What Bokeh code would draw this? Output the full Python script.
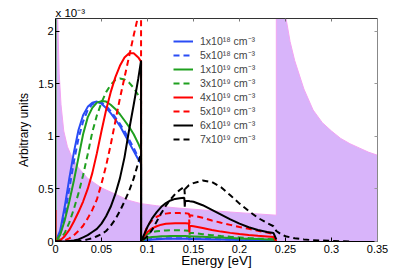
from bokeh.plotting import figure
from bokeh.models import Range1d, LinearAxis, Legend, LegendItem, FixedTicker
from bokeh.embed import file_html
from bokeh.resources import INLINE

# ---------------- data (y values in units of 1e-3) ----------------
x_ticks = [0.0, 0.05, 0.1, 0.15, 0.2, 0.25, 0.3, 0.35]
x_tick_labels = ["0", "0.05", "0.1", "0.15", "0.2", "0.25", "0.3", "0.35"]
y_ticks = [0.0, 0.5, 1.0, 1.5, 2.0]
y_tick_labels = ["0", "0.5", "1", "1.5", "2"]
y_exponent = "x 10⁻³"

# shaded background (purple) spectrum
fill_E = [0.0, 0.002, 0.004, 0.006, 0.009, 0.013, 0.018, 0.025, 0.035, 0.05, 0.065,
          0.08, 0.093, 0.11, 0.13, 0.16, 0.19, 0.215, 0.24, 0.24, 0.245, 0.25, 0.255,
          0.26, 0.27, 0.28, 0.29, 0.3, 0.31, 0.32, 0.33, 0.34, 0.35]
fill_v = [3.0, 2.25, 1.6, 1.3, 1.05, 0.9, 0.8, 0.7, 0.6, 0.51, 0.45,
          0.39, 0.36, 0.34, 0.32, 0.3, 0.28, 0.265, 0.25, 3.0, 3.0, 2.15, 1.9,
          1.72, 1.45, 1.25, 1.13, 1.05, 0.98, 0.93, 0.89, 0.85, 0.82]

# energy grids: below and above the 0.093 eV edge
E_low = [0.0, 0.005, 0.01, 0.015, 0.02, 0.025, 0.03, 0.035, 0.04, 0.045, 0.05,
         0.055, 0.06, 0.065, 0.07, 0.075, 0.08, 0.085, 0.09, 0.093]
E_high = [0.093, 0.097, 0.1, 0.105, 0.11, 0.115, 0.12, 0.125, 0.13, 0.135, 0.14,
          0.1405, 0.141, 0.145, 0.1455, 0.146, 0.15, 0.16, 0.17, 0.18, 0.19, 0.2,
          0.21, 0.22, 0.23, 0.237, 0.24]

labels = ["1x10¹⁸ cm⁻³", "5x10¹⁸ cm⁻³", "1x10¹⁹ cm⁻³", "3x10¹⁹ cm⁻³",
          "4x10¹⁹ cm⁻³", "5x10¹⁹ cm⁻³", "6x10¹⁹ cm⁻³", "7x10¹⁹ cm⁻³"]

# values at E = 0 drawn before the curve starts (vertical edge at E = 0)
start_1e18 = []
start_5e18 = []
start_1e19 = [3.0]
start_3e19 = []
start_4e19 = [0.3]
start_5e19 = []
start_6e19 = []
start_7e19 = []

low_1e18 = [0, 0.1, 0.33, 0.6, 0.85, 1.06, 1.2, 1.28, 1.32, 1.33, 1.31, 1.27, 1.22, 1.16, 1.1, 1.02, 0.94, 0.86, 0.78, 0.74]
low_5e18 = [0, 0.06, 0.25, 0.5, 0.76, 0.98, 1.14, 1.25, 1.305, 1.325, 1.32, 1.29, 1.24, 1.18, 1.12, 1.05, 0.97, 0.89, 0.8, 0.75]
low_1e19 = [0, 0.06, 0.2, 0.38, 0.58, 0.8, 1.02, 1.18, 1.27, 1.32, 1.335, 1.33, 1.3, 1.26, 1.21, 1.15, 1.09, 1.02, 0.93, 0.87]
low_3e19 = [0, 0.02, 0.08, 0.18, 0.31, 0.46, 0.63, 0.83, 1.04, 1.2, 1.32, 1.42, 1.49, 1.535, 1.55, 1.54, 1.51, 1.46, 1.39, 1.34]
low_4e19 = [0, 0.01, 0.05, 0.11, 0.19, 0.28, 0.38, 0.5, 0.65, 0.84, 1.05, 1.25, 1.42, 1.56, 1.67, 1.75, 1.79, 1.79, 1.75, 1.71]
low_5e19 = [0, 0.0, 0.01, 0.03, 0.06, 0.1, 0.15, 0.22, 0.3, 0.4, 0.55, 0.72, 0.92, 1.14, 1.36, 1.56, 1.76, 1.96, 2.15, 2.26]
low_6e19 = [0, 0, 0, 0.005, 0.01, 0.02, 0.04, 0.06, 0.09, 0.12, 0.17, 0.24, 0.33, 0.45, 0.6, 0.8, 1.06, 1.3, 1.55, 1.72]
low_7e19 = [0, 0, 0, 0, 0, 0.005, 0.01, 0.02, 0.03, 0.05, 0.07, 0.1, 0.15, 0.21, 0.29, 0.38, 0.48, 0.6, 0.75, 0.84]

high_1e18 = [0, 0.01, 0.015, 0.019, 0.022, 0.024, 0.025, 0.026, 0.026, 0.026, 0.025, 0.025, 0.025, 0.025, 0.018, 0.024, 0.024, 0.022, 0.02, 0.018, 0.016, 0.014, 0.013, 0.011, 0.01, 0.009, 0]
high_5e18 = [0, 0.012, 0.018, 0.023, 0.026, 0.028, 0.03, 0.031, 0.031, 0.031, 0.03, 0.03, 0.03, 0.03, 0.022, 0.029, 0.029, 0.027, 0.024, 0.022, 0.02, 0.018, 0.016, 0.014, 0.012, 0.011, 0]
high_1e19 = [0, 0.025, 0.035, 0.042, 0.046, 0.049, 0.051, 0.052, 0.053, 0.053, 0.052, 0.052, 0.052, 0.051, 0.035, 0.049, 0.048, 0.045, 0.041, 0.037, 0.033, 0.029, 0.026, 0.023, 0.02, 0.018, 0]
high_3e19 = [0, 0.05, 0.07, 0.088, 0.098, 0.102, 0.105, 0.107, 0.107, 0.106, 0.105, 0.105, 0.105, 0.103, 0.06, 0.082, 0.08, 0.07, 0.06, 0.052, 0.045, 0.039, 0.033, 0.028, 0.024, 0.021, 0]
high_4e19 = [0, 0.06, 0.09, 0.125, 0.145, 0.16, 0.168, 0.172, 0.174, 0.174, 0.173, 0.173, 0.173, 0.172, 0.085, 0.15, 0.145, 0.128, 0.11, 0.094, 0.082, 0.071, 0.062, 0.054, 0.047, 0.042, 0]
high_5e19 = [0, 0.08, 0.15, 0.2, 0.235, 0.255, 0.265, 0.27, 0.272, 0.27, 0.268, 0.268, 0.268, 0.265, 0.17, 0.25, 0.245, 0.225, 0.2, 0.178, 0.158, 0.138, 0.12, 0.102, 0.085, 0.072, 0]
high_6e19 = [0, 0.08, 0.14, 0.22, 0.28, 0.33, 0.365, 0.39, 0.405, 0.412, 0.415, 0.33, 0.385, 0.385, 0.384, 0.383, 0.378, 0.345, 0.3, 0.255, 0.21, 0.17, 0.135, 0.11, 0.09, 0.08, 0.02]
high_7e19 = [0, 0.03, 0.05, 0.11, 0.19, 0.27, 0.34, 0.4, 0.45, 0.49, 0.52, 0.45, 0.5, 0.535, 0.537, 0.538, 0.555, 0.58, 0.565, 0.515, 0.44, 0.36, 0.29, 0.225, 0.175, 0.145, 0.1]

tail_E_7e19 = [0.245, 0.25, 0.26, 0.27, 0.28, 0.3, 0.32]
tail_v_7e19 = [0.07, 0.05, 0.03, 0.02, 0.012, 0.006, 0.0]

# ---------------- figure ----------------
FONT = "Liberation Sans"
p = figure(width=415, height=275, output_backend="svg", toolbar_location=None,
           x_range=Range1d(0, 0.35), y_range=Range1d(0, 2.12),
           min_border_left=55, min_border_right=38, min_border_top=18, min_border_bottom=34)
p.grid.visible = False
p.outline_line_color = None
p.background_fill_color = "white"
p.border_fill_color = "white"

# exponent of the y axis, shown as the (left-aligned) title above the frame
p.title.text = y_exponent
p.title.align = "left"
p.title.offset = 0
p.title.standoff = 0
p.title.text_font = FONT
p.title.text_font_size = "11.5px"
p.title.text_font_style = "normal"
p.title.text_color = "black"

# shaded spectrum
p.varea(x=fill_E, y1=[0] * len(fill_E), y2=fill_v, fill_color="#D8B4FA", fill_alpha=1.0)
p.line(x=fill_E, y=fill_v, line_color="#F2A4F2", line_width=1)

styles = [("#2A4CF5", "solid"), ("#2A4CF5", "6 4"), ("#1FA01F", "solid"), ("#1FA01F", "6 4"),
          ("#FF0000", "solid"), ("#FF0000", "6 4"), ("#000000", "solid"), ("#000000", "6 4")]
starts = [start_1e18, start_5e18, start_1e19, start_3e19, start_4e19, start_5e19, start_6e19, start_7e19]
lows = [low_1e18, low_5e18, low_1e19, low_3e19, low_4e19, low_5e19, low_6e19, low_7e19]
highs = [high_1e18, high_5e18, high_1e19, high_3e19, high_4e19, high_5e19, high_6e19, high_7e19]

items = []
for i in range(8):
    xs = [0.0] * len(starts[i]) + E_low + E_high
    ys = starts[i] + lows[i] + highs[i]
    if i == 7:
        xs = xs + tail_E_7e19
        ys = ys + tail_v_7e19
    col, dash = styles[i]
    r = p.line(x=xs, y=ys, line_color=col, line_width=2, line_dash=dash)
    items.append(LegendItem(label=labels[i], renderers=[r]))

legend = Legend(items=items, location=(118, 95), glyph_width=20, glyph_height=14,
                label_height=14, spacing=0, padding=0, margin=0, label_standoff=7,
                label_text_font=FONT, label_text_font_size="10.5px",
                border_line_alpha=0, background_fill_alpha=0)
p.add_layout(legend)

# axes
for ax in (p.xaxis[0], p.yaxis[0]):
    ax.major_tick_in = 4
    ax.major_tick_out = 0
    ax.minor_tick_line_color = None
    ax.axis_line_color = "black"
    ax.major_tick_line_color = "black"
    ax.major_label_text_font = FONT
    ax.major_label_text_font_size = "11px"
    ax.major_label_text_color = "black"
    ax.axis_label_text_font = FONT
    ax.axis_label_text_font_style = "normal"
    ax.axis_label_text_color = "black"

p.xaxis[0].ticker = FixedTicker(ticks=x_ticks)
p.xaxis[0].major_label_overrides = dict(zip(x_ticks, x_tick_labels))
p.xaxis[0].axis_label = "Energy [eV]"
p.xaxis[0].axis_label_text_font_size = "13.5px"
p.xaxis[0].major_label_standoff = 3
p.xaxis[0].axis_label_standoff = -3

p.yaxis[0].ticker = FixedTicker(ticks=y_ticks)
p.yaxis[0].major_label_overrides = dict(zip(y_ticks, y_tick_labels))
p.yaxis[0].axis_label = "Arbitrary units"
p.yaxis[0].axis_label_text_font_size = "12px"
p.yaxis[0].major_label_standoff = 2
p.yaxis[0].axis_label_standoff = 4

# box axes on top and right: tick marks only (drawn as minor ticks, no labels)
top = LinearAxis(ticker=FixedTicker(ticks=[], minor_ticks=x_ticks), minor_tick_in=3, minor_tick_out=0,
                 major_tick_line_color=None, major_label_standoff=0,
                 axis_line_color="#333333", minor_tick_line_color="#777777")
right = LinearAxis(ticker=FixedTicker(ticks=[], minor_ticks=y_ticks), minor_tick_in=3, minor_tick_out=0,
                   major_tick_line_color=None, major_label_standoff=0,
                   axis_line_color="#888888", minor_tick_line_color="#999999")
p.add_layout(top, "above")
p.add_layout(right, "right")

open("out.html", "w").write(file_html(p, INLINE))
